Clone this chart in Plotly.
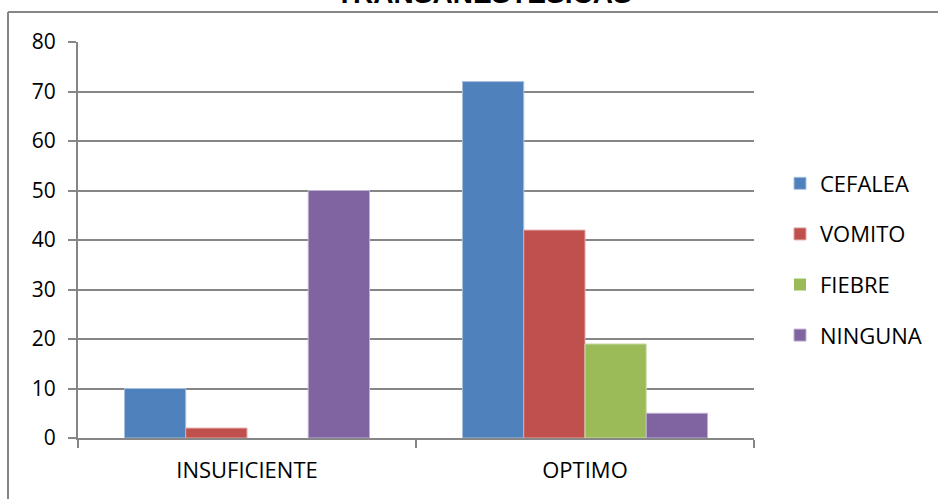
import plotly.graph_objects as go

# Categories and series values
categories = ["INSUFICIENTE", "OPTIMO"]
series_names = ["CEFALEA", "VOMITO", "FIEBRE", "NINGUNA"]
cefalea = [10, 72]
vomito = [2, 42]
fiebre = [0, 19]
ninguna = [50, 5]
y_ticks = [0, 10, 20, 30, 40, 50, 60, 70, 80]
title_text = "TRANSANESTESICAS"

colors = ["#4F81BD", "#C0504D", "#9BBB59", "#8064A2"]
edge_colors = ["#A7C0DE", "#E0A8A6", "#CDDDAC", "#BFB1D0"]
values = [cefalea, vomito, fiebre, ninguna]

W, H = 938, 499
L, R, T, B = 78, 184, 42, 61
pw, ph = W - L - R, H - T - B

def px_x(x):
    return (x - L) / pw

def px_y(y):
    return (H - B - y) / ph

grey = "#868686"
font_family = "Open Sans, Arial, sans-serif"

fig = go.Figure()
for i, (name, vals) in enumerate(zip(series_names, values)):
    fig.add_trace(go.Bar(
        x=categories, y=vals, name=name,
        marker=dict(color=colors[i],
                    line=dict(color=edge_colors[i],
                              width=[1 if v > 0 else 0 for v in vals])),
        legendgroup=name,
    ))

fig.update_layout(
    width=W, height=H,
    margin=dict(l=L, r=R, t=T, b=B, autoexpand=False),
    paper_bgcolor="white", plot_bgcolor="white",
    barmode="group", bargap=0.275, bargroupgap=0,
    font=dict(family=font_family, color="black", size=22),
    showlegend=True,
    legend=dict(
        xref="container", x=780 / W, xanchor="left",
        yref="container", y=1 - 259.5 / H, yanchor="middle",
        traceorder="grouped", tracegroupgap=19,
        font=dict(size=22, family=font_family),
        itemwidth=30, bgcolor="rgba(0,0,0,0)",
    ),
    xaxis=dict(
        showline=True, linecolor=grey, linewidth=2,
        ticks="outside", tickson="boundaries", ticklen=8,
        tickcolor=grey, tickwidth=2,
        tickfont=dict(size=22, family=font_family),
        ticklabelstandoff=12,
        showgrid=False,
    ),
    yaxis=dict(
        range=[0, 80], tickvals=y_ticks,
        showline=True, linecolor=grey, linewidth=2,
        ticks="outside", ticklen=8, tickcolor=grey, tickwidth=2,
        showgrid=True, gridcolor=grey, gridwidth=2,
        zeroline=False,
        tickfont=dict(size=21, family=font_family),
        ticklabelstandoff=8,
    ),
    shapes=[
        # outer chart frame (top and left edges visible)
        dict(type="line", xref="paper", yref="paper",
             x0=px_x(8), x1=px_x(940), y0=px_y(12), y1=px_y(12),
             line=dict(color=grey, width=2)),
        dict(type="line", xref="paper", yref="paper",
             x0=px_x(8), x1=px_x(8), y0=px_y(12), y1=px_y(505),
             line=dict(color=grey, width=2)),
    ],
    annotations=[
        dict(text="<b>" + title_text + "</b>", xref="paper", yref="paper",
             x=px_x(484), y=px_y(0), xanchor="center", yanchor="bottom",
             yshift=-11, showarrow=False,
             font=dict(family="Liberation Sans, Arial, sans-serif", size=28, color="black")),
    ],
)

fig.write_html("out.html")
